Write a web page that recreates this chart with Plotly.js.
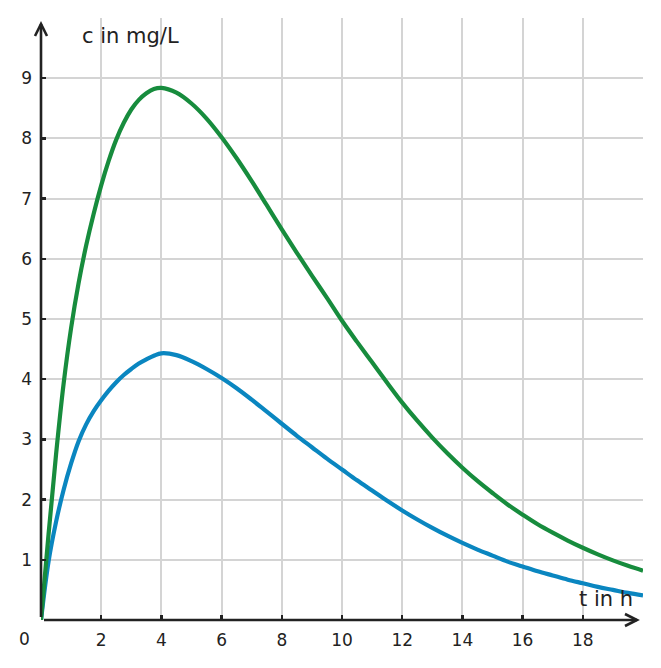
<!DOCTYPE html>
<html>
<head>
<meta charset="utf-8">
<script src="https://cdn.plot.ly/plotly-3.0.1.min.js"></script>
<style>html,body{margin:0;padding:0;background:#fff;}#chart{width:661px;height:668px;}</style>
</head>
<body>
<div id="chart"></div>
<script>
// time in h
const timeH = [0, 0.25, 0.5, 0.75, 1, 1.25, 1.5, 1.75, 2, 2.25, 2.5, 2.75, 3, 3.25, 3.5, 3.75, 4, 4.5, 5, 5.5, 6, 6.5, 7, 7.5, 8, 8.5, 9, 9.5, 10,
  10.5, 11, 11.5, 12, 12.5, 13, 13.5, 14, 14.5, 15, 15.5, 16, 16.5, 17, 17.5, 18, 18.5, 19, 19.5, 20];
// concentration in mg/L, higher dose (green)
const concHigh = [0, 1.42, 2.75, 3.92, 4.85, 5.6, 6.22, 6.75, 7.22, 7.63, 7.98, 8.26, 8.48, 8.64, 8.75, 8.82, 8.84, 8.76, 8.58, 8.33, 8.02, 7.67, 7.29, 6.89, 6.49, 6.1, 5.72, 5.35, 4.97,
  4.62, 4.28, 3.94, 3.61, 3.31, 3.03, 2.77, 2.53, 2.31, 2.11, 1.92, 1.75, 1.59, 1.45, 1.32, 1.20, 1.09, 0.99, 0.90, 0.82];
// concentration in mg/L, lower dose (blue)
const concLow = [0, 0.97, 1.63, 2.16, 2.6, 2.97, 3.25, 3.47, 3.65, 3.81, 3.95, 4.07, 4.17, 4.26, 4.33, 4.39, 4.43, 4.40, 4.30, 4.17, 4.02, 3.85, 3.66, 3.46, 3.26, 3.06, 2.87, 2.68, 2.50,
  2.32, 2.15, 1.98, 1.82, 1.67, 1.53, 1.40, 1.28, 1.17, 1.07, 0.97, 0.89, 0.81, 0.74, 0.67, 0.61, 0.55, 0.50, 0.45, 0.41];
// tick labels
const xTickVals = [2, 4, 6, 8, 10, 12, 14, 16, 18];
const yTickVals = [1, 2, 3, 4, 5, 6, 7, 8, 9];
const xTitle = 't in h';
const yTitle = 'c in mg/L';

const W = 661, H = 668;
const M = {l: 41, r: 18, t: 18, b: 48};
const PW = W - M.l - M.r, PH = H - M.t - M.b;
const px = x => (x - M.l) / PW;          // pixel x -> paper
const py = y => (H - M.b - y) / PH;      // pixel y -> paper
const FONT = 'DejaVu Sans';
const INK = '#222222';

const traces = [
  {x: timeH, y: concLow, type: 'scatter', mode: 'lines',
   line: {color: '#0a86c0', width: 4.2, shape: 'spline', smoothing: 1}, hoverinfo: 'skip'},
  {x: timeH, y: concHigh, type: 'scatter', mode: 'lines',
   line: {color: '#178c3d', width: 4.2, shape: 'spline', smoothing: 1}, hoverinfo: 'skip'}
];

const axisCommon = {
  ticks: 'inside', ticklen: 5, tickwidth: 2.5, tickcolor: INK,
  showgrid: true, gridcolor: '#d4d4d4', gridwidth: 2,
  zeroline: false, showline: false, fixedrange: true,
  tickfont: {family: FONT, size: 17, color: INK}
};

const layout = {
  width: W, height: H, margin: M,
  paper_bgcolor: '#ffffff', plot_bgcolor: '#ffffff',
  showlegend: false,
  xaxis: Object.assign({}, axisCommon, {range: [0, 20], tickmode: 'array', tickvals: xTickVals, ticktext: xTickVals.map(String), ticklabelstandoff: 8}),
  yaxis: Object.assign({}, axisCommon, {range: [0, 10], tickmode: 'array', tickvals: yTickVals, ticktext: yTickVals.map(String), ticklabelstandoff: 8}),
  shapes: [
    {type: 'line', xref: 'paper', yref: 'paper', x0: px(41), x1: px(41), y0: py(617), y1: py(24), line: {color: INK, width: 2.6}},
    {type: 'path', xref: 'paper', yref: 'paper', path: `M${px(35)},${py(36)} L${px(41)},${py(24)} L${px(47)},${py(36)}`, line: {color: INK, width: 2.6}},
    {type: 'line', xref: 'paper', yref: 'paper', x0: px(44), x1: px(637), y0: py(620), y1: py(620), line: {color: INK, width: 2.6}},
    {type: 'path', xref: 'paper', yref: 'paper', path: `M${px(625)},${py(614)} L${px(637)},${py(620)} L${px(625)},${py(626)}`, line: {color: INK, width: 2.6}}
  ],
  annotations: [
    {xref: 'paper', yref: 'paper', x: px(80), y: py(36), xanchor: 'left', yanchor: 'middle', text: yTitle, showarrow: false, font: {family: FONT, size: 21, color: INK}},
    {xref: 'paper', yref: 'paper', x: px(635), y: py(599), xanchor: 'right', yanchor: 'middle', text: xTitle, showarrow: false, font: {family: FONT, size: 21, color: INK}},
    {xref: 'paper', yref: 'paper', x: px(24), y: py(639), xanchor: 'center', yanchor: 'middle', text: '0', showarrow: false, font: {family: FONT, size: 17, color: INK}}
  ]
};

Plotly.newPlot('chart', traces, layout, {staticPlot: true, displayModeBar: false});
</script>
</body>
</html>
